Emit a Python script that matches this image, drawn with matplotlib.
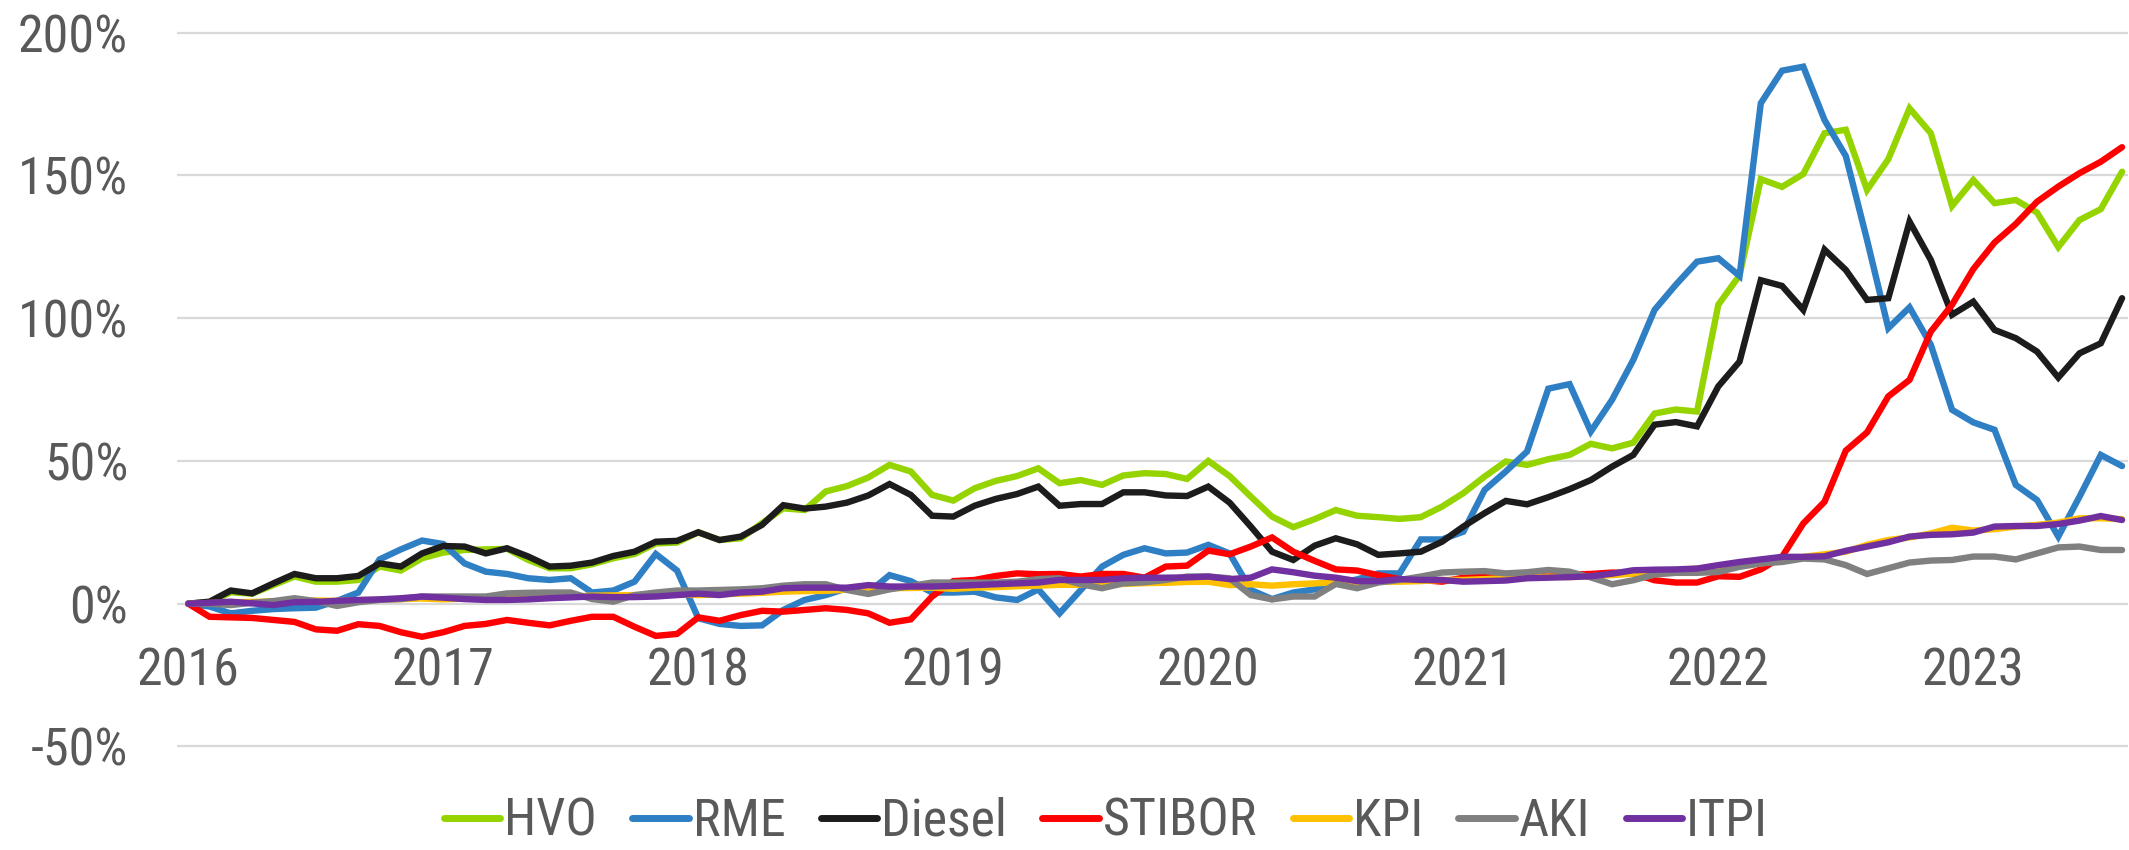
import matplotlib
matplotlib.use("Agg")
import matplotlib.pyplot as plt
from matplotlib import font_manager
from matplotlib.font_manager import FontProperties
from matplotlib.textpath import TextPath
from matplotlib.ticker import FixedLocator, FuncFormatter

# ---------------- data (monthly, Jan 2016 .. Aug 2023), % change ----------------
years = ["2016", "2017", "2018", "2019", "2020", "2021", "2022", "2023"]
series_names = ["HVO", "RME", "Diesel", "STIBOR", "KPI", "AKI", "ITPI"]

hvo = [0, 0.5, 4.0, 3.5, 6.5, 9.5, 7.7, 7.7, 8.3, 13.0, 11.6, 15.9,
       17.9, 18.8, 19.0, 19.2, 15.3, 12.4, 12.4, 13.8, 15.9, 17.4, 21.1, 21.4,
       25.0, 22.3, 22.9, 28.2, 33.4, 32.8, 39.3, 41.2, 44.2, 48.6, 46.3, 38.1,
       36.1, 40.4, 43.0, 44.7, 47.4, 42.2, 43.3, 41.6, 44.9, 45.7, 45.4, 43.7,
       50.0, 44.7, 37.5, 30.5, 26.8, 29.6, 32.8, 30.8, 30.3, 29.7, 30.3, 34.0,
       38.7, 44.5, 49.8, 48.6, 50.6, 52.1, 56.0, 54.4, 56.4, 66.6, 68.0, 67.3,
       104.7, 115.0, 148.7, 146.0, 150.5, 164.8, 166.0, 144.9, 155.7, 173.5, 164.8, 139.3,
       148.4, 140.3, 141.4, 137.0, 124.9, 134.4, 138.2, 151.3]

rme = [0, -1.0, -3.4, -2.5, -1.9, -1.6, -1.4, 1.0, 3.9, 15.5, 19.0, 22.1,
       20.9, 14.1, 11.2, 10.4, 8.9, 8.3, 8.9, 3.9, 4.6, 7.7, 17.4, 11.6,
       -5.1, -7.1, -7.8, -7.6, -2.2, 1.3, 3.0, 5.4, 3.9, 10.0, 7.9, 3.9,
       3.9, 4.2, 2.2, 1.3, 5.0, -3.4, 4.8, 13.0, 17.1, 19.4, 17.6, 17.9,
       20.6, 17.6, 4.8, 1.6, 3.9, 5.0, 7.0, 8.5, 10.6, 10.6, 22.5, 22.5,
       25.2, 39.8, 46.3, 53.3, 75.3, 76.9, 60.3, 71.4, 85.4, 102.9, 111.7, 119.8,
       121.0, 114.8, 175.3, 186.7, 188.1, 169.4, 156.8, 127.4, 96.5, 103.8, 90.7, 67.9,
       63.5, 60.9, 41.6, 36.3, 23.5, 37.5, 52.1, 48.2]

diesel = [0, 0.7, 4.6, 3.6, 7.1, 10.4, 8.9, 8.9, 9.7, 14.1, 13.0, 17.6,
          20.2, 20.0, 17.6, 19.4, 16.5, 13.0, 13.3, 14.4, 16.7, 18.2, 21.7, 22.0,
          25.0, 22.3, 23.5, 27.6, 34.5, 33.3, 34.0, 35.4, 37.9, 41.9, 38.1, 30.8,
          30.5, 34.3, 36.7, 38.4, 41.0, 34.3, 34.9, 34.9, 39.0, 39.0, 37.9, 37.7,
          41.0, 35.4, 27.0, 18.2, 15.3, 20.3, 22.9, 20.8, 17.1, 17.6, 18.2, 21.7,
          27.0, 31.7, 36.0, 34.8, 37.3, 40.1, 43.3, 48.0, 52.1, 62.7, 63.6, 62.1,
          76.1, 84.8, 113.3, 111.3, 102.9, 124.0, 116.9, 106.4, 107.0, 133.8, 120.4, 101.2,
          105.8, 95.9, 93.0, 88.3, 79.2, 87.7, 91.2, 107.0]

stibor = [0, -4.6, -4.8, -5.0, -5.7, -6.4, -9.0, -9.5, -7.2, -7.8, -10.0, -11.6,
          -10.0, -7.8, -7.1, -5.7, -6.7, -7.6, -6.0, -4.6, -4.6, -8.1, -11.3, -10.6,
          -4.8, -6.0, -4.0, -2.5, -2.8, -2.2, -1.6, -2.2, -3.4, -6.7, -5.5, 2.5,
          7.9, 8.3, 9.7, 10.6, 10.3, 10.4, 9.5, 10.4, 10.4, 9.1, 13.0, 13.3,
          18.6, 17.3, 20.0, 23.2, 18.2, 15.0, 12.0, 11.6, 10.0, 8.6, 8.3, 7.7,
          9.1, 9.5, 9.1, 9.2, 9.8, 10.2, 10.4, 10.9, 10.6, 8.2, 7.4, 7.4,
          9.6, 9.4, 12.0, 16.4, 28.1, 35.7, 53.6, 60.0, 72.6, 78.4, 95.3, 104.7,
          117.2, 126.5, 133.0, 140.8, 146.1, 150.8, 154.8, 159.9]

kpi = [0, 0.2, 0.5, 0.6, 0.8, 1.0, 1.1, 1.0, 1.2, 1.4, 1.6, 1.8,
       1.5, 1.8, 1.9, 2.2, 2.3, 2.6, 2.5, 2.8, 2.9, 3.0, 3.1, 3.3,
       3.0, 3.3, 3.5, 3.8, 4.2, 4.4, 4.5, 4.9, 5.0, 5.4, 5.5, 5.6,
       5.2, 5.6, 5.8, 6.1, 6.3, 6.6, 6.6, 6.9, 6.9, 7.2, 7.3, 7.6,
       7.7, 6.5, 6.8, 6.3, 6.8, 7.1, 7.5, 7.5, 7.7, 7.7, 7.9, 8.3,
       8.3, 8.6, 8.9, 9.0, 9.5, 9.3, 9.6, 10.0, 10.5, 11.1, 11.7, 12.3,
       12.6, 13.1, 14.1, 15.2, 16.4, 17.3, 18.2, 20.6, 22.3, 23.2, 24.6, 26.6,
       25.6, 26.1, 27.0, 27.6, 28.4, 29.9, 29.9, 29.6]

aki = [0, 0, -0.5, 0.3, 0.9, 1.9, 0.9, -0.8, 0.5, 1.3, 1.6, 2.5,
       2.5, 2.5, 2.5, 3.6, 3.8, 3.9, 3.9, 1.6, 0.7, 3.0, 3.9, 4.6,
       4.6, 4.8, 5.0, 5.4, 6.3, 6.8, 6.8, 4.8, 3.4, 5.0, 6.2, 7.4,
       7.4, 7.4, 7.4, 7.7, 8.6, 8.9, 6.8, 5.4, 7.1, 7.5, 8.3, 9.5,
       9.5, 8.9, 3.0, 1.5, 2.5, 2.5, 6.9, 5.4, 7.4, 8.3, 9.5, 10.9,
       11.2, 11.4, 10.6, 11.0, 11.8, 11.2, 9.2, 6.8, 8.2, 10.2, 10.8, 10.8,
       11.1, 12.9, 14.1, 14.6, 15.8, 15.5, 13.5, 10.4, 12.4, 14.4, 15.1, 15.3,
       16.5, 16.5, 15.5, 17.6, 19.7, 20.0, 18.8, 18.8]

itpi = [0, 0.3, 0.7, 0.1, -0.5, 0.5, 0.6, 1.0, 1.3, 1.5, 1.9, 2.5,
        2.1, 1.6, 1.3, 1.3, 1.5, 1.9, 2.2, 2.5, 2.3, 2.3, 2.5, 3.0,
        3.5, 3.0, 3.9, 4.2, 5.4, 5.6, 5.6, 5.6, 6.5, 6.0, 6.0, 6.0,
        6.2, 6.5, 6.8, 7.1, 7.4, 8.3, 8.3, 8.3, 8.9, 9.1, 9.1, 9.2,
        9.5, 8.6, 9.1, 12.0, 11.0, 9.8, 9.1, 7.9, 7.9, 8.6, 8.3, 8.3,
        7.7, 7.9, 8.1, 8.9, 9.1, 9.3, 9.6, 10.5, 11.7, 11.9, 12.0, 12.3,
        13.5, 14.6, 15.5, 16.4, 16.4, 16.6, 18.5, 20.0, 21.5, 23.5, 24.1, 24.3,
        24.9, 27.0, 27.2, 27.2, 27.9, 29.1, 30.7, 29.3]

y_ticks = [-50, 0, 50, 100, 150, 200]

# ---------------- style ----------------
colors = ["#95D400", "#2F7FC5", "#1C1C1C", "#FF0000", "#FFC000", "#808080", "#7030A0"]
text_color = "#595959"
grid_color = "#D9D9D9"

# pick a narrow / condensed sans if one is installed (reference uses a narrow face)
prefer = ["Liberation Sans Narrow", "Arial Narrow", "Roboto Condensed",
          "Noto Sans Condensed", "Open Sans Condensed", "DejaVu Sans Condensed"]
cands = []
for f in font_manager.fontManager.ttflist:
    if f.style != "normal" or f.weight not in (400, "normal", "regular", "book"):
        continue
    nm = f.name
    score = None
    if nm in prefer:
        score = prefer.index(nm)
    elif f.stretch in ("condensed", "semi-condensed") and any(
            k in nm for k in ("Liberation", "Roboto", "Noto Sans", "Open Sans", "DejaVu Sans", "Lato", "Inter")):
        score = 10
    if score is not None and "CJK" not in nm and "Mono" not in nm:
        cands.append((score, f.fname))
cands.sort()
if cands:
    fp_base = FontProperties(fname=cands[0][1])
else:
    fp_base = FontProperties(family="Liberation Sans")

# size the font so "200%" is ~108 px wide and digits are at most ~38 px tall
tp_w = TextPath((0, 0), "200%", size=100, prop=fp_base).get_extents()
tp_h = TextPath((0, 0), "200", size=100, prop=fp_base).get_extents()
px_per_pt = 100 / 72
size_w = 100 * 108 / (tp_w.width * px_per_pt)
size_h = 100 * 38 / (tp_h.height * px_per_pt)
fs = min(size_w, size_h)


def fprop():
    p = fp_base.copy()
    p.set_size(fs)
    return p


W, H = 2129, 850
fig = plt.figure(figsize=(W / 100, H / 100), dpi=100)

# axes placement in pixels
px_left, px_right = 176.7, 2127.9
px_per_pct = 2.854
y_top_val, y_bot_val = 202, -52
px_top = 32.7 - (y_top_val - 200) * px_per_pct
px_bot = 603.7 + (-y_bot_val) * px_per_pct
ax = fig.add_axes([px_left / W, 1 - px_bot / H, (px_right - px_left) / W, (px_bot - px_top) / H])

x0_px, dx_px = 188.3, 21.25
ax.set_xlim((px_left - x0_px) / dx_px, (px_right - x0_px) / dx_px)
ax.set_ylim(y_bot_val, y_top_val)

data = [hvo, rme, diesel, stibor, kpi, aki, itpi]
months = list(range(len(hvo)))
for i, (name, vals, c) in enumerate(zip(series_names, data, colors)):
    ax.plot(months, vals, color=c, lw=4.6, label=name, zorder=3 + i,
            solid_joinstyle="miter", solid_capstyle="round")

for s in ax.spines.values():
    s.set_visible(False)

ax.yaxis.set_major_locator(FixedLocator(y_ticks))
ax.yaxis.set_major_formatter(FuncFormatter(lambda v, p: f"{int(v)}%"))
ax.tick_params(axis="y", length=0, pad=35, labelcolor=text_color)
for lbl in ax.get_yticklabels():
    lbl.set_fontproperties(fprop())
ax.grid(axis="y", color=grid_color, lw=1.6, zorder=0)
ax.set_axisbelow(True)

ax.set_xticks([])
for k, yl in enumerate(years):
    ax.text(12 * k, -28.8, yl, ha="center", va="baseline", fontproperties=fprop(),
            color=text_color)

leg = fig.legend(loc="center", bbox_to_anchor=(1106 / W, 1 - 822 / H), ncol=7,
                 frameon=False, prop=fprop(), handlelength=1.08, handletextpad=0.08,
                 columnspacing=0.68, borderaxespad=0, borderpad=0)
for t in leg.get_texts():
    t.set_color(text_color)
for h in leg.legend_handles:
    h.set_linewidth(5.0)

fig.savefig("out.png", dpi=100)
